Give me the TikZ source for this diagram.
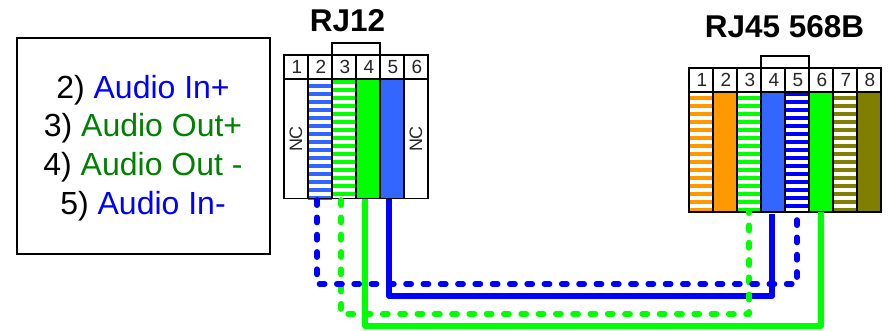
\documentclass[tikz,border=0pt]{standalone}
\usepackage{fontspec}
\setmainfont{Liberation Sans}
\definecolor{pblue}{HTML}{3366FF}
\definecolor{dblue}{HTML}{0000FF}
\definecolor{pgreen}{HTML}{00FF00}
\definecolor{tgreen}{HTML}{008000}
\definecolor{porange}{HTML}{FF9900}
\definecolor{polive}{HTML}{808000}
\tikzset{
  frame/.style={draw=black,line width=1.3pt},
  head/.style={draw=black,line width=1.5pt,fill=white,minimum width=24pt,minimum height=24pt,inner sep=0pt,outer sep=0pt,anchor=north west,font=\fontsize{19}{19}\selectfont,text=black!85},
  cell/.style={draw=black,line width=1.5pt,minimum width=24pt,inner sep=0pt,outer sep=0pt,anchor=north west},
  rjcell/.style={cell,minimum height=119.5pt},
  tcell/.style={cell,minimum height=120pt},
  tablet/.style={draw=black,line width=1.3pt,minimum width=48pt,minimum height=12pt,inner sep=0pt,outer sep=0pt,anchor=south west},
  wire/.style={line width=5.6pt,line join=round},
  dwire/.style={wire,line cap=round,dash pattern=on 5.2pt off 12.1pt,dash phase=15.8pt},
  ttl/.style={font=\bfseries\fontsize{31.5}{31.5}\selectfont,inner sep=0pt},
  nc/.style={rotate=90,font=\fontsize{18}{18}\selectfont,inner sep=0pt,text=black!85}
}
\newcommand{\stripes}[4]{% x, first y, colour, count-1
  \foreach \k in {0,...,#4}{\fill[#3] (#1,#2+8*\k) rectangle (#1+24,#2+8*\k+4);}
}
\begin{document}
\begin{tikzpicture}[x=1pt,y=-1pt]
\useasboundingbox (0,0) rectangle (888,331);
\fill[white] (0,0) rectangle (888,331);

% legend
\node[frame,minimum width=253pt,minimum height=216pt,inner sep=0pt,outer sep=0pt] (legend) at (143.5,146) {};
\node[inner sep=0pt,align=center,font=\fontsize{32}{38.8}\selectfont] (legendtext) at (143,148)
 {2) \textcolor{dblue}{Audio In+}\\3) \textcolor{tgreen}{Audio Out+}\\4) \textcolor{tgreen}{Audio Out -}\\5) \textcolor{dblue}{Audio In-}};

% titles
\node[ttl] (t12) at (347.5,21) {RJ12};
\node[ttl] (t45) at (784.5,27) {RJ45 568B};

% RJ12 fills
\stripes{308}{84}{pblue}{14}
\stripes{332}{80}{pgreen}{14}
\fill[pgreen] (356,79) rectangle (380,199);
\fill[pblue] (380,79) rectangle (404,199);

% RJ45 fills
\stripes{689}{96}{porange}{14}
\fill[porange] (713,92) rectangle (737,212);
\stripes{737}{96}{pgreen}{14}
\fill[pblue] (761,92) rectangle (785,212);
\stripes{785}{92}{dblue}{14}
\fill[pgreen] (809,92) rectangle (833,212);
\stripes{833}{96}{polive}{14}
\fill[polive] (857,92) rectangle (881,212);

% RJ12 connector
\node[tablet] (tabA) at (332,55) {};
\foreach \i/\x in {1/284,2/308,3/332,4/356,5/380,6/404}{
  \node[head] (a\i) at (\x,55) {\hspace{2pt}\i};
  \node[rjcell] (p\i) at (\x,79) {};
}
\node[nc] (nc1) at (296,139) {NC};
\node[nc] (nc2) at (416,139) {NC};

% RJ45 connector
\node[tablet] (tabB) at (761,68) {};
\foreach \i/\x in {1/689,2/713,3/737,4/761,5/785,6/809,7/833,8/857}{
  \node[head] (b\i) at (\x,68) {\hspace{2pt}\i};
  \node[tcell] (q\i) at (\x,92) {};
}

% wires
\coordinate (vBlue) at (580,296);
\coordinate (vDBlue) at (560,284);
\coordinate (vDGreen) at (540,314);
\coordinate (vGreen) at (600,326);
\draw[wire,dblue] ([xshift=-3pt]p5.south) |- (vBlue) -| ([xshift=-1pt,yshift=-2pt]q4.south);
\draw[dwire,pgreen] ([xshift=-3pt]p3.south) |- (vDGreen) -| ([yshift=1pt]q3.south);
\draw[dwire,dblue] ([xshift=-3pt]p2.south) |- (vDBlue) -| ([yshift=4pt]q5.south);
\draw[wire,pgreen] ([xshift=-3pt]p4.south) |- (vGreen) -| ([xshift=0pt]q6.south);
\end{tikzpicture}
\end{document}
